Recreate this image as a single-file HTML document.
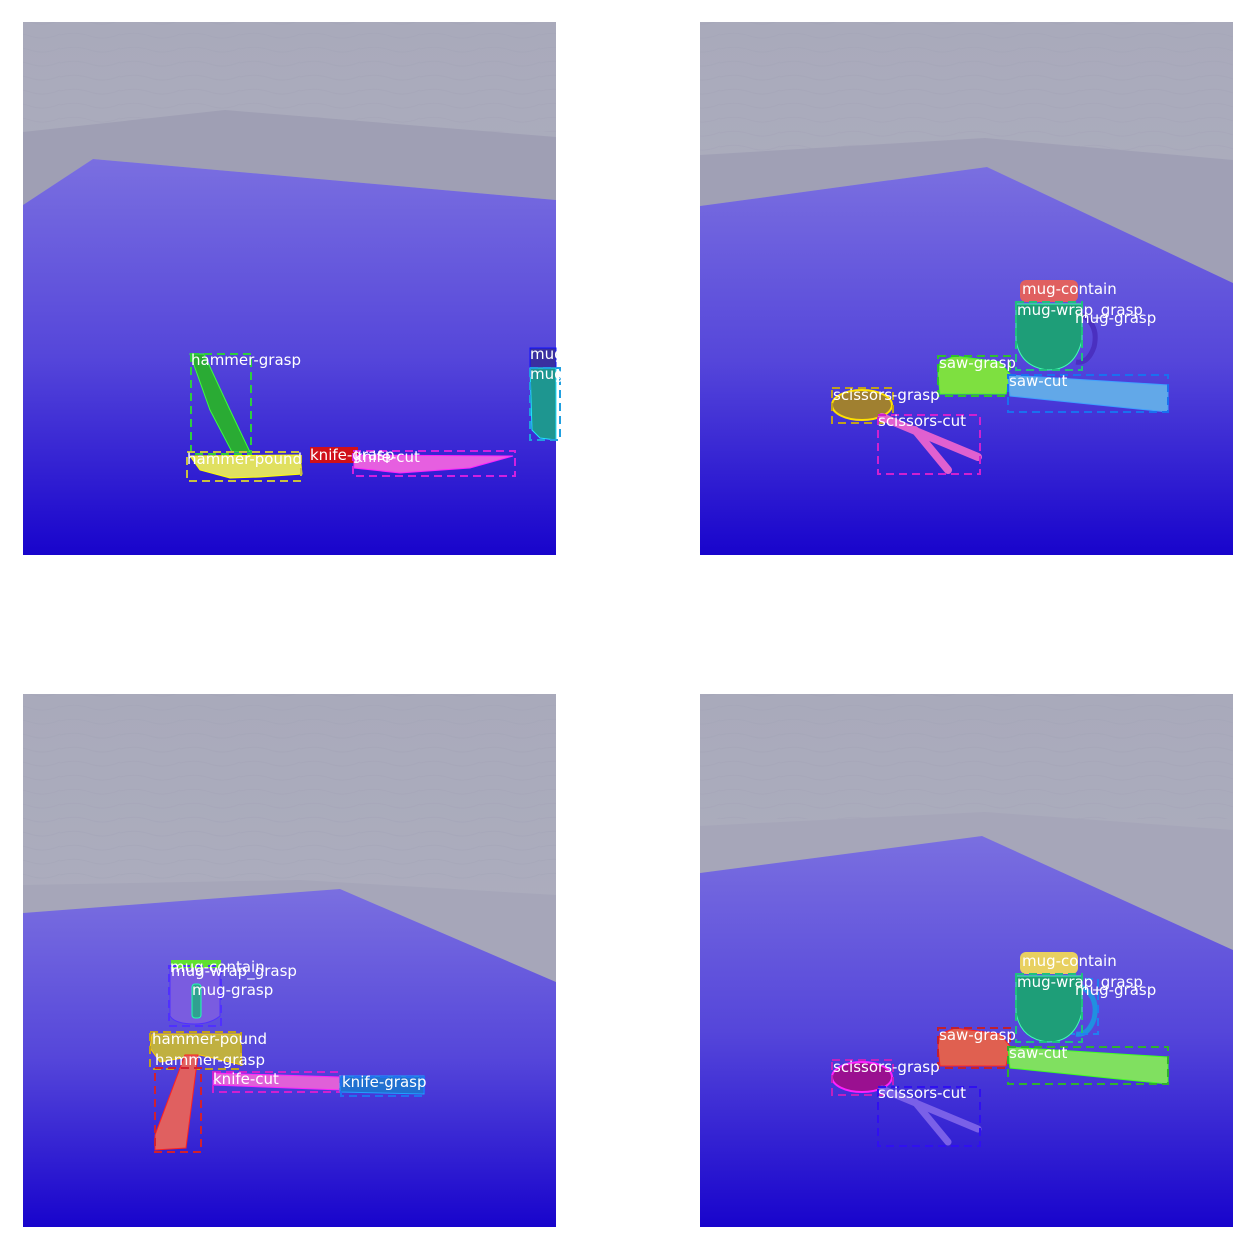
<!DOCTYPE html>
<html><head><meta charset="utf-8"><style>
html,body{margin:0;padding:0;background:#fff;width:1256px;height:1252px;overflow:hidden}
svg{display:block}
text{font-family:"DejaVu Sans","Liberation Sans",sans-serif;font-size:15px;fill:#fff}
.box{fill:none;stroke-width:2;stroke-dasharray:8,5}
</style></head><body>
<svg width="1256" height="1252" viewBox="0 0 1256 1252">
<defs>
<linearGradient id="wall" x1="0" y1="0" x2="0" y2="1"><stop offset="0" stop-color="#a9aabb"/><stop offset="1" stop-color="#b0b1c1"/></linearGradient>
<linearGradient id="floor" x1="0" y1="0" x2="0" y2="1"><stop offset="0" stop-color="#7a6fe0"/><stop offset="0.5" stop-color="#5546da"/><stop offset="1" stop-color="#1804cc"/></linearGradient>
<pattern id="tex" width="60" height="14" patternUnits="userSpaceOnUse"><path d="M0 7 Q15 3 30 8 T60 6" stroke="#a0a1b3" stroke-width="1" fill="none" opacity="0.35"/></pattern>
</defs>

<!-- Panel 1 -->
<g>
<rect x="23" y="22" width="533" height="533" fill="url(#wall)"/>
<rect x="23" y="22" width="533" height="110" fill="url(#tex)"/>
<polygon points="23,132 225,110 556,137 556,200 93,159 23,205" fill="#9f9fb4"/>
<polygon points="23,205 93,159 556,200 556,555 23,555" fill="url(#floor)"/>
<polygon points="190,354 204,354 230,410 250,452 232,452 210,410" fill="#2aab34" stroke="#3cff3c"/>
<rect x="191" y="354" width="60" height="100" class="box" stroke="#2ecc40"/>
<polygon points="190,456 300,455 302,474 260,477 230,478 200,470" fill="#e0e060" stroke="#ffff00"/>
<rect x="187" y="452" width="114" height="29" class="box" stroke="#c8c040"/>
<rect x="310" y="447" width="48" height="16" fill="#d0101a"/>
<polygon points="354,455 513,456 470,468 400,473 354,468" fill="#e65fe0" stroke="#ff20ff"/>
<rect x="353" y="451" width="162" height="25" class="box" stroke="#d020e0"/>
<rect x="530" y="348" width="26" height="20" fill="#3a30a0" stroke="#1010ff"/>
<polygon points="530,368 556,368 556,440 540,438 532,430" fill="#1e9690" stroke="#20e0ff"/>
<rect x="530" y="368" width="30" height="72" class="box" stroke="#20a0e0"/>
<text x="191" y="365">hammer-grasp</text>
<text x="187" y="464">hammer-pound</text>
<text x="310" y="460">knife-grasp</text>
<text x="354" y="462">knife-cut</text>
<text x="530" y="359">mug</text>
<text x="530" y="379">mug</text>
</g>

<!-- Panel 2 -->
<g>
<rect x="700" y="22" width="533" height="533" fill="url(#wall)"/>
<rect x="700" y="22" width="533" height="130" fill="url(#tex)"/>
<polygon points="700,155 985,138 1233,160 1233,283 987,167 700,206" fill="#a0a0b5"/>
<polygon points="700,206 987,167 1233,283 1233,555 700,555" fill="url(#floor)"/>
</g>
<g transform="translate(700,22)">
<rect x="320" y="258" width="58" height="22" rx="6" fill="#e06060"/>
<path d="M376,290 Q400,300 394,325 Q388,342 376,340" fill="none" stroke="#4a30c0" stroke-width="5"/>
<path d="M316,282 L382,282 L382,318 Q375,348 348,348 Q320,345 316,318 Z" fill="#1e9e78" stroke="#40ffb0"/>
<rect x="316" y="280" width="66" height="68" class="box" stroke="#20c080"/>
<polygon points="240,340 255,334 300,340 310,352 306,372 240,372 238,352" fill="#7ee040" stroke="#40ff20"/>
<rect x="238" y="334" width="72" height="40" class="box" stroke="#30c030"/>
<polygon points="308,353 468,363 468,390 310,374" fill="#62a8e8" stroke="#40a0ff"/>
<rect x="308" y="353" width="160" height="37" class="box" stroke="#1a70f0"/>
<ellipse cx="162" cy="383" rx="30" ry="15" fill="#a08030" stroke="#ffe000" stroke-width="2"/>
<rect x="132" y="366" width="61" height="35" class="box" stroke="#c0a020"/>
<polyline points="182,395 278,435" stroke="#e060d0" stroke-width="8" fill="none" stroke-linecap="round"/>
<polyline points="215,408 248,448" stroke="#e060d0" stroke-width="8" fill="none" stroke-linecap="round"/>
<rect x="178" y="393" width="102" height="59" class="box" stroke="#d020d0"/>
<text x="322" y="272">mug-contain</text>
<text x="317" y="293">mug-wrap_grasp</text>
<text x="375" y="301">mug-grasp</text>
<text x="239" y="346">saw-grasp</text>
<text x="309" y="364">saw-cut</text>
<text x="133" y="378">scissors-grasp</text>
<text x="178" y="404">scissors-cut</text>
</g>

<!-- Panel 3 -->
<g>
<rect x="23" y="694" width="533" height="533" fill="url(#wall)"/>
<rect x="23" y="694" width="533" height="190" fill="url(#tex)"/>
<polygon points="23,885 300,880 556,895 556,982 340,889 23,913" fill="#a6a6b9"/>
<polygon points="23,913 340,889 556,982 556,1227 23,1227" fill="url(#floor)"/>
<path d="M170,966 L220,966 L220,1016 Q210,1024 195,1024 Q175,1024 170,1016 Z" fill="#7a5ce0" stroke="#5030ff"/>
<rect x="171" y="960" width="50" height="8" fill="#60e030"/>
<rect x="169" y="966" width="52" height="60" class="box" stroke="#5030ff"/>
<rect x="192" y="984" width="9" height="34" rx="3" fill="#30a090" stroke="#20ffb0"/>
<polygon points="152,1034 240,1034 242,1065 200,1055 160,1062 150,1048" fill="#c0b040" stroke="#ffd000"/>
<rect x="150" y="1032" width="91" height="37" class="box" stroke="#c0a020"/>
<polygon points="185,1055 198,1055 186,1148 155,1150 155,1135" fill="#e06060" stroke="#ff2020"/>
<rect x="155" y="1068" width="46" height="84" class="box" stroke="#d02030"/>
<polygon points="213,1073 340,1077 340,1090 213,1085" fill="#e060d8" stroke="#ff20ff"/>
<rect x="213" y="1072" width="127" height="20" class="box" stroke="#d020d0"/>
<polygon points="340,1076 424,1076 424,1094 340,1092" fill="#2070d0" stroke="#20a0ff"/>
<rect x="341" y="1077" width="83" height="19" class="box" stroke="#2070f0"/>
<text x="170" y="972">mug-contain</text>
<text x="171" y="976">mug-wrap_grasp</text>
<text x="192" y="995">mug-grasp</text>
<text x="152" y="1044">hammer-pound</text>
<text x="155" y="1065">hammer-grasp</text>
<text x="213" y="1084">knife-cut</text>
<text x="342" y="1087">knife-grasp</text>
</g>

<!-- Panel 4 -->
<g>
<rect x="700" y="694" width="533" height="533" fill="url(#wall)"/>
<rect x="700" y="694" width="533" height="125" fill="url(#tex)"/>
<polygon points="700,826 985,812 1233,830 1233,950 982,836 700,873" fill="#a6a6b9"/>
<polygon points="700,873 982,836 1233,950 1233,1227 700,1227" fill="url(#floor)"/>
</g>
<g transform="translate(700,694)">
<rect x="320" y="258" width="58" height="22" rx="6" fill="#e8d060"/>
<path d="M376,290 Q400,300 394,325 Q388,342 376,340" fill="none" stroke="#2090e0" stroke-width="5"/>
<rect x="372" y="285" width="26" height="55" class="box" stroke="#2080f0"/>
<path d="M316,282 L382,282 L382,318 Q375,348 348,348 Q320,345 316,318 Z" fill="#1e9e78" stroke="#40ffb0"/>
<rect x="316" y="280" width="66" height="68" class="box" stroke="#20c080"/>
<polygon points="240,340 255,334 300,340 310,352 306,372 240,372 238,352" fill="#e06050" stroke="#ff2020"/>
<rect x="238" y="334" width="72" height="40" class="box" stroke="#c02030"/>
<polygon points="308,353 468,363 468,390 310,374" fill="#80e060" stroke="#40ff20"/>
<rect x="308" y="353" width="160" height="37" class="box" stroke="#30b030"/>
<ellipse cx="162" cy="383" rx="30" ry="15" fill="#9a1090" stroke="#ff20ff" stroke-width="2"/>
<rect x="132" y="366" width="61" height="35" class="box" stroke="#c020c0"/>
<polyline points="182,395 278,435" stroke="#7a60e8" stroke-width="7" fill="none" stroke-linecap="round"/>
<polyline points="215,408 248,448" stroke="#7a60e8" stroke-width="7" fill="none" stroke-linecap="round"/>
<rect x="178" y="393" width="102" height="59" class="box" stroke="#3010f0"/>
<text x="322" y="272">mug-contain</text>
<text x="317" y="293">mug-wrap_grasp</text>
<text x="375" y="301">mug-grasp</text>
<text x="239" y="346">saw-grasp</text>
<text x="309" y="364">saw-cut</text>
<text x="133" y="378">scissors-grasp</text>
<text x="178" y="404">scissors-cut</text>
</g>
</svg>
</body></html>
